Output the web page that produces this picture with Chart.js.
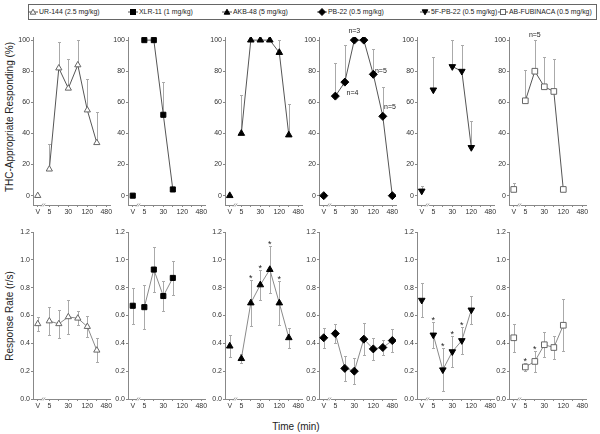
<!DOCTYPE html>
<html>
<head>
<meta charset="utf-8">
<script src="https://cdn.jsdelivr.net/npm/chart.js@4.4.1/dist/chart.umd.min.js"></script>
<style>
  body { margin: 0; background: #fff; font-family: "Liberation Sans", Arial, sans-serif; }
  #wrap { position: relative; width: 600px; height: 434px; overflow: hidden; }
  .panel { position: absolute; }
  #legend { position: absolute; left: 28px; top: 4px; width: 569px; height: 16px; border: 1px solid #666; box-sizing: border-box; }
  .item { position: absolute; top: 2px; font-size: 6.9px; color: #222; white-space: nowrap; line-height: 10px; }
  .item svg { vertical-align: top; }
  .ytitle { position: absolute; font-size: 10px; color: #222; white-space: nowrap; transform: translate(-50%, -50%) rotate(-90deg); }
  #xtitle { position: absolute; left: 296px; top: 426px; font-size: 10px; color: #222; transform: translate(-50%, -50%); white-space: nowrap; }
</style>
</head>
<body>
<div id="wrap">
  <div id="legend"></div>
  <div class="ytitle" style="left:9px; top:117px;">THC-Appropriate Responding (%)</div>
  <div class="ytitle" style="left:9px; top:316px;">Response Rate (r/s)</div>
  <div id="xtitle">Time (min)</div>
</div>
<script>
// time points (V = vehicle), and where they sit on the x axis
const timeLabels = ['V', '5', '15', '30', '60', '120', '240', '480'];
const timePos = [-1.22, 0, 1, 2, 3, 4, 5, 6];
const shownLabels = ['V', '5', '30', '120', '480'];

const drugs = ['UR-144 (2.5 mg/kg)', 'XLR-11 (1 mg/kg)', 'AKB-48 (5 mg/kg)',
               'PB-22 (0.5 mg/kg)', '5F-PB-22 (0.5 mg/kg)', 'AB-FUBINACA (0.5 mg/kg)'];

// THC-appropriate responding (%) and +SEM
const pctUR144 = [0, 17, 82, 69, 84, 55, 34, null];
const pctUR144Err = [0, 16, 17, 19, 16, 20, 20, null];
const pctXLR11 = [0, 100, 100, 52, 4, null, null, null];
const pctXLR11Err = [0, 0, 0, 21, 0, null, null, null];
const pctAKB48 = [0, 40, 100, 100, 100, 92, 39, null];
const pctAKB48Err = [0, 25, 0, 0, 0, 8, 20, null];
const pctPB22 = [0, 64, 73, 100, 100, 78, 51, 0];
const pctPB22Err = [0, 21, 24, 0, 0, 16, 19, 0];
const pct5FPB22 = [3, 68, null, 83, 80, 31, null, null];
const pct5FPB22Err = [3, 21, null, 17, 17, 17, null, null];
const pctABF = [4, 61, 80, 70, 67, 4, null, null];
const pctABFErr = [4, 20, 20, 19, 21, 0, null, null];

// response rate (r/s) and SEM
const rateUR144 = [0.54, 0.56, 0.54, 0.59, 0.58, 0.52, 0.35, null];
const rateUR144Err = [0.05, 0.10, 0.10, 0.12, 0.05, 0.075, 0.085, null];
const rateXLR11 = [0.67, 0.66, 0.93, 0.74, 0.87, null, null, null];
const rateXLR11Err = [0.13, 0.16, 0.16, 0.11, 0.125, null, null, null];
const rateAKB48 = [0.38, 0.29, 0.69, 0.82, 0.93, 0.69, 0.44, null];
const rateAKB48Err = [0.08, 0.03, 0.165, 0.11, 0.17, 0.155, 0.07, null];
const ratePB22 = [0.44, 0.47, 0.22, 0.20, 0.43, 0.36, 0.37, 0.42];
const ratePB22Err = [0.07, 0.07, 0.09, 0.095, 0.115, 0.08, 0.055, 0.085];
const rate5FPB22 = [0.71, 0.46, 0.21, 0.34, 0.42, 0.64, null, null];
const rate5FPB22Err = [0.12, 0.09, 0.155, 0.11, 0.095, 0.10, null, null];
const rateABF = [0.44, 0.23, 0.27, 0.39, 0.37, 0.53, null, null];
const rateABFErr = [0.10, 0.03, 0.075, 0.09, 0.08, 0.185, null, null];

// significant rate changes (*)
const starsAKB48 = ['15', '30', '60', '120'];
const stars5FPB22 = ['5', '15', '30', '60'];
const starsABF = ['5', '15'];

// group size notes in the top row: [time position, value, text]
const notesPB22 = [[2, 106, 'n=3'], [1.8, 66, 'n=4'], [4.8, 80, 'n=5'], [5.75, 57, 'n=5']];
const notesABF = [[1, 103.5, 'n=5']];

const pctTicks = [0, 20, 40, 60, 80, 100];
const rateTicks = [0, 0.2, 0.4, 0.6, 0.8, 1.0, 1.2];

const pctMeans = [pctUR144, pctXLR11, pctAKB48, pctPB22, pct5FPB22, pctABF];
const pctErrs = [pctUR144Err, pctXLR11Err, pctAKB48Err, pctPB22Err, pct5FPB22Err, pctABFErr];
const rateMeans = [rateUR144, rateXLR11, rateAKB48, ratePB22, rate5FPB22, rateABF];
const rateErrs = [rateUR144Err, rateXLR11Err, rateAKB48Err, ratePB22Err, rate5FPB22Err, rateABFErr];
const starsList = [[], [], starsAKB48, [], stars5FPB22, starsABF];
const notesList = [[], [], [], notesPB22, [], notesABF];

// marker look per drug
const markers = [
  { style: 'triangle', rot: 0, fill: '#fff', edge: '#666', r: 3.6 },
  { style: 'rect', rot: 0, fill: '#000', edge: '#000', r: 3.6 },
  { style: 'triangle', rot: 0, fill: '#000', edge: '#000', r: 3.8 },
  { style: 'rectRot', rot: 0, fill: '#000', edge: '#000', r: 4 },
  { style: 'triangle', rot: 180, fill: '#000', edge: '#000', r: 3.8 },
  { style: 'rect', rot: 0, fill: '#fff', edge: '#666', r: 4 }
];

Chart.defaults.font.family = '"Liberation Sans", Arial, sans-serif';
Chart.defaults.font.size = 7;
Chart.defaults.color = '#333';
Chart.defaults.animation = false;

// layout
const axisX = [33, 128, 225, 319, 417, 509];
const Y_W = 28, PLOT_W = 77, PAD_R = 5, X_H = 14;
const rows = [
  { top: 37, bottom: 205, padTop: 12, min: -6, max: 102, ticks: pctTicks, both: false,
    means: pctMeans, errs: pctErrs, line: '#555', fmt: v => String(v) },
  { top: 232, bottom: 399, padTop: 8, min: 0, max: 1.2, ticks: rateTicks, both: true,
    means: rateMeans, errs: rateErrs, line: '#8a8a8a', fmt: v => v.toFixed(1) }
];

const extras = {
  id: 'extras',
  beforeDatasetsDraw(chart, args, o) {
    const { ctx, scales: { x, y } } = chart;
    ctx.save();
    ctx.strokeStyle = '#aaa';
    ctx.lineWidth = 1;
    o.means.forEach((m, i) => {
      const e = o.errs[i];
      if (m == null || !e) return;
      const px = Math.round(x.getPixelForValue(timePos[i])) + 0.5;
      const hi = Math.round(y.getPixelForValue(m + e)) + 0.5;
      const lo = o.both ? Math.round(y.getPixelForValue(m - e)) + 0.5 : y.getPixelForValue(m);
      ctx.beginPath();
      ctx.moveTo(px, lo); ctx.lineTo(px, hi);
      ctx.moveTo(px - 1.5, hi); ctx.lineTo(px + 1.5, hi);
      if (o.both) { ctx.moveTo(px - 1.5, lo); ctx.lineTo(px + 1.5, lo); }
      ctx.stroke();
    });
    ctx.restore();
  },
  afterDatasetsDraw(chart, args, o) {
    const { ctx, chartArea, scales: { x, y } } = chart;
    ctx.save();
    // axis break on the x axis
    const bx = x.getPixelForValue(-0.66), by = chartArea.bottom;
    ctx.fillStyle = '#fff';
    ctx.fillRect(bx - 1, by - 1, 3, 3);
    ctx.strokeStyle = '#888';
    ctx.lineWidth = 0.8;
    ctx.beginPath();
    ctx.moveTo(bx - 2, by + 1.5); ctx.lineTo(bx, by - 1.5);
    ctx.moveTo(bx, by + 1.5); ctx.lineTo(bx + 2, by - 1.5);
    ctx.stroke();
    // stars
    ctx.fillStyle = '#222';
    ctx.textAlign = 'center';
    ctx.textBaseline = 'alphabetic';
    ctx.font = '9px "Liberation Sans", Arial, sans-serif';
    o.stars.forEach(lab => {
      const i = timeLabels.indexOf(lab);
      const top = o.means[i] + o.errs[i];
      ctx.fillText('*', x.getPixelForValue(timePos[i]), y.getPixelForValue(top) + 1);
    });
    // n= notes
    ctx.font = '7px "Liberation Sans", Arial, sans-serif';
    ctx.textBaseline = 'middle';
    o.notes.forEach(([t, v, txt]) => {
      ctx.fillText(txt, x.getPixelForValue(t), y.getPixelForValue(v));
    });
    ctx.restore();
  }
};

function makePanel(r, c) {
  const row = rows[r];
  const mk = markers[c];
  const means = row.means[c], errs = row.errs[c];
  const h = row.padTop + (row.bottom - row.top) + X_H;
  const div = document.createElement('div');
  div.className = 'panel';
  div.style.left = (axisX[c] - Y_W) + 'px';
  div.style.top = (row.top - row.padTop) + 'px';
  div.style.width = (Y_W + PLOT_W + PAD_R) + 'px';
  div.style.height = h + 'px';
  const cv = document.createElement('canvas');
  div.appendChild(cv);
  document.getElementById('wrap').appendChild(div);

  const pts = [];
  for (let i = 1; i < timePos.length; i++) {
    if (means[i] === null && means.slice(i).every(v => v === null)) break;
    pts.push({ x: timePos[i], y: means[i] });
  }
  const pointOpts = {
    pointStyle: mk.style, rotation: mk.rot, pointRadius: mk.r,
    pointBackgroundColor: mk.fill, pointBorderColor: mk.edge, pointBorderWidth: 1,
    pointHoverRadius: mk.r
  };

  new Chart(cv, {
    type: 'line',
    data: {
      datasets: [
        Object.assign({ data: pts, borderColor: row.line, borderWidth: 1, spanGaps: false, tension: 0 }, pointOpts),
        Object.assign({ data: [{ x: timePos[0], y: means[0] }], showLine: false }, pointOpts)
      ]
    },
    options: {
      responsive: true,
      maintainAspectRatio: false,
      events: [],
      layout: { padding: { top: row.padTop, right: PAD_R, left: 0, bottom: 0 } },
      plugins: {
        legend: { display: false },
        tooltip: { enabled: false },
        extras: { means, errs, both: row.both, stars: r === 1 ? starsList[c] : [], notes: r === 0 ? notesList[c] : [] }
      },
      scales: {
        x: {
          type: 'linear', min: -1.72, max: 6.39,
          afterBuildTicks: s => { s.ticks = timePos.map(v => ({ value: v })); },
          afterFit: s => { s.height = X_H; s.paddingLeft = 0; s.paddingRight = 0; },
          ticks: {
            autoSkip: false, maxRotation: 0, padding: 1, color: '#333',
            callback: v => {
              const lab = timeLabels[timePos.indexOf(v)];
              return shownLabels.includes(lab) ? lab : '';
            }
          },
          grid: { drawOnChartArea: false, drawTicks: true, tickLength: 2, color: '#888' },
          border: { display: true, color: '#888', width: 1 }
        },
        y: {
          type: 'linear', min: row.min, max: row.max,
          afterBuildTicks: s => { s.ticks = row.ticks.map(v => ({ value: v })); },
          afterFit: s => { s.width = Y_W; s.paddingTop = 0; s.paddingBottom = 0; },
          ticks: { padding: 1, color: '#333', callback: v => row.fmt(v) },
          grid: { drawOnChartArea: false, drawTicks: true, tickLength: 2, color: '#888' },
          border: { display: true, color: '#888', width: 1 }
        }
      }
    },
    plugins: [extras]
  });
}

// legend: text start of each entry (page x)
const legendText = [39, 139, 233, 328, 431, 509];
const legend = document.getElementById('legend');
drugs.forEach((name, c) => {
  const mk = markers[c];
  let shape;
  if (mk.style === 'triangle' && mk.rot === 0) shape = '<polygon points="5,2.2 7.8,7.2 2.2,7.2"/>';
  else if (mk.style === 'triangle') shape = '<polygon points="2.2,2.8 7.8,2.8 5,7.8"/>';
  else if (mk.style === 'rectRot') shape = '<polygon points="5,1.5 8.4,5 5,8.5 1.6,5"/>';
  else shape = '<rect x="2.5" y="2.5" width="5" height="5"/>';
  const it = document.createElement('div');
  it.className = 'item';
  it.style.left = (legendText[c] - 11 - 29) + 'px';
  it.innerHTML = '<svg width="11" height="10"><line x1="0" y1="5" x2="10" y2="5" stroke="#555" stroke-width="1"/>' +
    '<g fill="' + mk.fill + '" stroke="' + mk.edge + '" stroke-width="1">' + shape + '</g></svg>' + name;
  legend.appendChild(it);
});

for (let r = 0; r < 2; r++) for (let c = 0; c < 6; c++) makePanel(r, c);
</script>
</body>
</html>
